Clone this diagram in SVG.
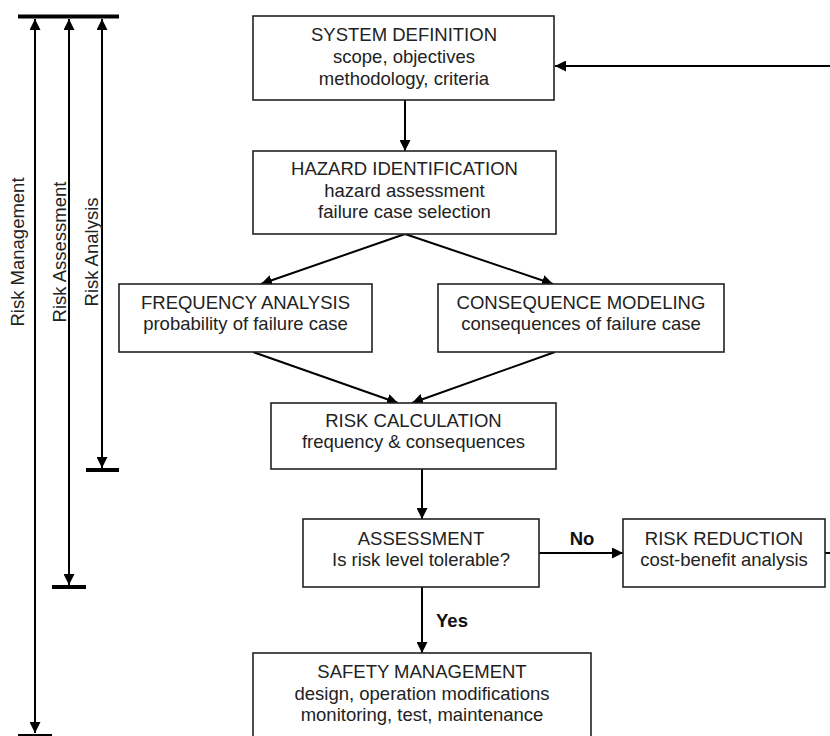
<svg xmlns="http://www.w3.org/2000/svg" width="830" height="736" viewBox="0 0 830 736">
<defs>
<marker id="ah" viewBox="0 0 10 10" refX="10" refY="5" markerWidth="11" markerHeight="11" markerUnits="userSpaceOnUse" orient="auto-start-reverse">
<path d="M0,0 L10,5 L0,10 Z" fill="#000"/>
</marker>
<style>
.box{fill:#fff;stroke:#222;stroke-width:1.6}
.t{font-family:"Liberation Sans",Arial,sans-serif;font-size:18.5px;fill:#222;text-anchor:middle}
.b{font-family:"Liberation Sans",Arial,sans-serif;font-size:18.5px;font-weight:bold;fill:#111;text-anchor:middle}
.c{stroke:#000;stroke-width:2;fill:none}
.bar{stroke:#000;stroke-width:4}
</style>
</defs>
<rect width="830" height="736" fill="#fff"/>

<g id="scale">
<line class="bar" x1="18" y1="16.5" x2="119" y2="16.5"/>
<line class="bar" x1="86" y1="470" x2="119" y2="470"/>
<line class="bar" x1="52" y1="587" x2="86" y2="587"/>
<line class="bar" x1="18" y1="736" x2="52" y2="736"/>
<line class="c" x1="35" y1="19" x2="35" y2="733" marker-start="url(#ah)" marker-end="url(#ah)"/>
<line class="c" x1="69" y1="19" x2="69" y2="585" marker-start="url(#ah)" marker-end="url(#ah)"/>
<line class="c" x1="102" y1="19" x2="102" y2="468" marker-start="url(#ah)" marker-end="url(#ah)"/>
<text class="t" transform="translate(24,252) rotate(-90)">Risk Management</text>
<text class="t" transform="translate(66,252) rotate(-90)">Risk Assessment</text>
<text class="t" transform="translate(98,252) rotate(-90)">Risk Analysis</text>
</g>

<g id="connectors">
<line class="c" x1="830" y1="66" x2="555" y2="66" marker-end="url(#ah)"/>
<line class="c" x1="405" y1="100" x2="405" y2="151" marker-end="url(#ah)"/>
<line class="c" x1="405" y1="234" x2="261" y2="284" marker-end="url(#ah)"/>
<line class="c" x1="405" y1="234" x2="553" y2="284" marker-end="url(#ah)"/>
<line class="c" x1="253" y1="352" x2="398" y2="403" marker-end="url(#ah)"/>
<line class="c" x1="555" y1="352" x2="412" y2="403" marker-end="url(#ah)"/>
<line class="c" x1="422" y1="469" x2="422" y2="519" marker-end="url(#ah)"/>
<line class="c" x1="539" y1="553" x2="623" y2="553" marker-end="url(#ah)"/>
<line class="c" x1="825" y1="553" x2="830" y2="553"/>
<line class="c" x1="422" y1="587" x2="422" y2="653" marker-end="url(#ah)"/>
<text class="b" x="582" y="545">No</text>
<text class="b" x="452" y="627">Yes</text>
</g>

<g id="system-definition">
<rect class="box" x="253" y="16" width="301" height="84"/>
<text class="t" x="404" y="41">SYSTEM DEFINITION</text>
<text class="t" x="404" y="63">scope, objectives</text>
<text class="t" x="404" y="85">methodology, criteria</text>
</g>

<g id="hazard-identification">
<rect class="box" x="253" y="151" width="303" height="83"/>
<text class="t" x="404.5" y="175">HAZARD IDENTIFICATION</text>
<text class="t" x="404.5" y="197">hazard assessment</text>
<text class="t" x="404.5" y="218">failure case selection</text>
</g>

<g id="frequency-analysis">
<rect class="box" x="119" y="284" width="253" height="68"/>
<text class="t" x="245.5" y="309">FREQUENCY ANALYSIS</text>
<text class="t" x="245.5" y="330">probability of failure case</text>
</g>

<g id="consequence-modeling">
<rect class="box" x="438" y="284" width="286" height="68"/>
<text class="t" x="581" y="309">CONSEQUENCE MODELING</text>
<text class="t" x="581" y="330">consequences of failure case</text>
</g>

<g id="risk-calculation">
<rect class="box" x="271" y="403" width="285" height="66"/>
<text class="t" x="413.5" y="427">RISK CALCULATION</text>
<text class="t" x="413.5" y="448">frequency &amp; consequences</text>
</g>

<g id="assessment">
<rect class="box" x="303" y="519" width="236" height="68"/>
<text class="t" x="421" y="545">ASSESSMENT</text>
<text class="t" x="421" y="566">Is risk level tolerable?</text>
</g>

<g id="risk-reduction">
<rect class="box" x="623" y="519" width="202" height="68"/>
<text class="t" x="724" y="545">RISK REDUCTION</text>
<text class="t" x="724" y="566">cost-benefit analysis</text>
</g>

<g id="safety-management">
<rect class="box" x="253" y="653" width="338" height="100"/>
<text class="t" x="422" y="678">SAFETY MANAGEMENT</text>
<text class="t" x="422" y="700">design, operation modifications</text>
<text class="t" x="422" y="721">monitoring, test, maintenance</text>
</g>
</svg>
